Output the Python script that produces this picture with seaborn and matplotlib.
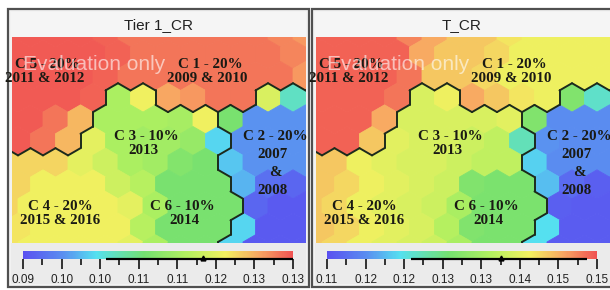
import numpy as np
import matplotlib
matplotlib.use("Agg")
import matplotlib.pyplot as plt
import seaborn as sns
from matplotlib.collections import PolyCollection, LineCollection
from matplotlib.colors import Normalize, LinearSegmentedColormap
from matplotlib.cm import ScalarMappable
from matplotlib.patches import Rectangle
import matplotlib.transforms as mtransforms

sns.set_theme(style="white")
plt.rcParams['font.family'] = ['Liberation Sans', 'DejaVu Sans']

# ---------------- data ----------------
titles = ["Tier 1_CR", "T_CR"]
tick_labels_1 = ["0.09", "0.10", "0.10", "0.11", "0.11", "0.12", "0.13", "0.13"]
tick_labels_2 = ["0.11", "0.12", "0.12", "0.13", "0.13", "0.14", "0.15", "0.15"]
scale_1 = (0.092, 0.131)
scale_2 = (0.1125, 0.151)
# black range line under colour bar: low, high, marker
range_1 = (0.104, 0.131, 0.118)
range_2 = (0.1245, 0.1496, 0.1373)

# cluster groups per SOM cell (T = C5+C1, M = C3+C4+C6, R = C2)
cluster_groups = [
    "TTTTTTTTTTTTT",
    "TTTTTTTTTTTTT",
    "TTTTTTTTTTTTT",
    "TTTTMMTTTTRRR",
    "TTTTMMMMMRRRR",
    "TTTMMMMMMRRRR",
    "MMMMMMMMMRRRR",
    "MMMMMMMMMRRRR",
    "MMMMMMMMMMRRR",
    "MMMMMMMMMRRRR",
    "MMMMMMMMMRRRR",
]

values_1 = [
    [0.1305, 0.1305, 0.1305, 0.1305, 0.130, 0.129, 0.129, 0.129, 0.129, 0.129, 0.129, 0.128, 0.127],
    [0.1305, 0.1305, 0.1305, 0.1305, 0.130, 0.129, 0.129, 0.129, 0.129, 0.129, 0.129, 0.128, 0.128],
    [0.1305, 0.1305, 0.1305, 0.1305, 0.130, 0.129, 0.129, 0.129, 0.129, 0.129, 0.129, 0.129, 0.127],
    [0.1305, 0.1305, 0.1305, 0.130, 0.115, 0.121, 0.126, 0.127, 0.129, 0.129, 0.119, 0.105, 0.105],
    [0.1305, 0.1305, 0.129, 0.125, 0.115, 0.115, 0.115, 0.1145, 0.121, 0.110, 0.098, 0.098, 0.098],
    [0.1305, 0.129, 0.125, 0.120, 0.115, 0.114, 0.114, 0.113, 0.102, 0.098, 0.098, 0.098, 0.098],
    [0.123, 0.123, 0.123, 0.120, 0.118, 0.115, 0.114, 0.111, 0.110, 0.101, 0.098, 0.098, 0.098],
    [0.123, 0.121, 0.121, 0.121, 0.118, 0.116, 0.110, 0.110, 0.110, 0.100, 0.095, 0.094, 0.094],
    [0.123, 0.121, 0.121, 0.121, 0.121, 0.120, 0.115, 0.110, 0.110, 0.110, 0.094, 0.093, 0.093],
    [0.122, 0.121, 0.121, 0.121, 0.121, 0.116, 0.110, 0.110, 0.110, 0.102, 0.093, 0.093, 0.093],
    [0.122, 0.121, 0.121, 0.121, 0.121, 0.120, 0.115, 0.110, 0.110, 0.102, 0.093, 0.093, 0.093],
]

values_2 = [
    [0.150, 0.150, 0.150, 0.150, 0.148, 0.146, 0.144, 0.144, 0.142, 0.141, 0.141, 0.141, 0.141],
    [0.150, 0.150, 0.150, 0.150, 0.146, 0.144, 0.144, 0.143, 0.141, 0.141, 0.141, 0.141, 0.141],
    [0.150, 0.150, 0.150, 0.150, 0.149, 0.144, 0.144, 0.143, 0.141, 0.141, 0.141, 0.141, 0.141],
    [0.150, 0.150, 0.150, 0.149, 0.139, 0.141, 0.146, 0.144, 0.142, 0.141, 0.131, 0.125, 0.125],
    [0.150, 0.150, 0.150, 0.146, 0.139, 0.139, 0.139, 0.139, 0.140, 0.131, 0.118, 0.118, 0.118],
    [0.150, 0.150, 0.144, 0.140, 0.139, 0.139, 0.138, 0.137, 0.126, 0.1185, 0.118, 0.118, 0.118],
    [0.144, 0.144, 0.141, 0.140, 0.139, 0.139, 0.138, 0.137, 0.137, 0.122, 0.118, 0.118, 0.118],
    [0.144, 0.143, 0.141, 0.140, 0.139, 0.138, 0.131, 0.1305, 0.1305, 0.121, 0.115, 0.114, 0.114],
    [0.144, 0.143, 0.141, 0.140, 0.139, 0.138, 0.135, 0.1305, 0.1305, 0.1305, 0.114, 0.1137, 0.1137],
    [0.144, 0.143, 0.141, 0.140, 0.139, 0.136, 0.131, 0.1305, 0.1305, 0.123, 0.1137, 0.1137, 0.1137],
    [0.144, 0.143, 0.141, 0.140, 0.139, 0.138, 0.135, 0.1305, 0.1305, 0.123, 0.1137, 0.1137, 0.1137],
]

cluster_texts = ["C 5 - 20%", "2011 & 2012", "C 1 - 20%", "2009 & 2010",
                 "C 3 - 10%", "2013", "C 2 - 20%", "2007", "&", "2008",
                 "C 4 - 20%", "2015 & 2016", "C 6 - 10%", "2014"]
watermark = "Evaluation only"

# ---------------- layout (pixels, relative to left panel) ----------------
text_pos = [(47, 64), (45, 79), (210, 64), (207, 79),
            (146, 137), (143, 151), (275, 137), (273, 154), (275, 173), (273, 191),
            (60, 206), (60, 221), (182, 206), (184, 221)]
panel_dx = [0, 304]

W, H = 610, 290
fig = plt.figure(figsize=(W / 100, H / 100), dpi=100)


def px_axes(x0, y0, x1, y1, z=1):
    return fig.add_axes([x0 / W, 1 - y1 / H, (x1 - x0) / W, (y1 - y0) / H], zorder=z)


cmap = LinearSegmentedColormap.from_list("som", [
    (0.00, "#5a50f0"), (0.15, "#5a90f0"), (0.27, "#55e0f0"), (0.45, "#74e070"),
    (0.60, "#b0f060"), (0.75, "#f2f060"), (0.88, "#f8a462"), (1.00, "#f05252")])

bg = px_axes(0, 0, W, H, z=0)
bg.set_xlim(0, W)
bg.set_ylim(H, 0)
bg.axis("off")

ov = px_axes(0, 0, W, H, z=10)
ov.set_xlim(0, W)
ov.set_ylim(H, 0)
ov.axis("off")
ov.patch.set_alpha(0)

s = 1 / np.sqrt(3)
rh = np.sqrt(3) / 2
nrow, ncol = len(cluster_groups), len(cluster_groups[0])

datasets = [(values_1, scale_1, tick_labels_1, range_1),
            (values_2, scale_2, tick_labels_2, range_2)]

for p, (vals, scale, tlabels, rng) in enumerate(datasets):
    dx = panel_dx[p]
    # frame and background bands
    bg.add_patch(Rectangle((8 + dx, 9), 301, 278, facecolor="#f2f2f2",
                           edgecolor="#505050", lw=1.6))
    bg.add_patch(Rectangle((11 + dx, 12), 295, 25, facecolor="#f5f5f5",
                           edgecolor="none"))
    bg.add_patch(Rectangle((11 + dx, 243), 295, 41, facecolor="#ebebeb",
                           edgecolor="none"))
    bg.text(158 + dx, 25, titles[p], ha="center", va="center", fontsize=11,
            color="#222222")

    # hexagonal SOM map
    ax = px_axes(12 + dx, 37, 306 + dx, 243, z=2)
    ax.set_xlim(0.26, 12.02)
    ax.set_ylim(8.412, 0.172)
    ax.axis("off")
    norm = Normalize(vmin=scale[0], vmax=scale[1])
    polys, cvals = [], []
    for r in range(nrow):
        for k in range(ncol):
            cx = k + 0.5 * (r % 2)
            cy = r * rh
            ang = np.deg2rad(30 + 60 * np.arange(6))
            polys.append(np.column_stack([cx + s * np.cos(ang), cy + s * np.sin(ang)]))
            cvals.append(vals[r][k])
    pc = PolyCollection(polys, array=np.array(cvals), cmap=cmap, norm=norm,
                        edgecolors="face", linewidths=0.6)
    ax.add_collection(pc)

    # cluster boundaries
    segs = []
    for r in range(nrow):
        for k in range(ncol):
            cx = k + 0.5 * (r % 2)
            cy = r * rh
            for th in range(0, 360, 60):
                t = np.deg2rad(th)
                nx, ny = cx + np.cos(t), cy + np.sin(t)
                r2 = int(round(ny / rh))
                k2 = int(round(nx - 0.5 * (r2 % 2)))
                if not (0 <= r2 < nrow and 0 <= k2 < ncol):
                    continue
                if (r2, k2) < (r, k):
                    continue
                if cluster_groups[r][k] != cluster_groups[r2][k2]:
                    a1, a2 = np.deg2rad(th - 30), np.deg2rad(th + 30)
                    segs.append([(cx + s * np.cos(a1), cy + s * np.sin(a1)),
                                 (cx + s * np.cos(a2), cy + s * np.sin(a2))])
    ax.add_collection(LineCollection(segs, colors="#1c2a1c", linewidths=1.4,
                                     capstyle="round"))

    # colour bar
    cax = px_axes(23 + dx, 251, 293 + dx, 259, z=3)
    cb = fig.colorbar(ScalarMappable(norm=norm, cmap=cmap), cax=cax,
                      orientation="horizontal")
    cb.outline.set_visible(False)
    ticks = np.linspace(scale[0], scale[1], len(tlabels))
    cax.set_xticks(ticks, labels=tlabels)
    cax.set_xticks((ticks[:-1] + ticks[1:]) / 2, minor=True)
    cax.tick_params(axis="x", which="both", bottom=True, direction="out",
                    color="black", width=1.1)
    cax.tick_params(axis="x", which="major", length=7, labelsize=8.5, pad=4,
                    labelcolor="#222222")
    cax.tick_params(axis="x", which="minor", length=4)
    trans = mtransforms.blended_transform_factory(cax.transData, cax.transAxes)
    cax.plot([rng[0], rng[1]], [0, 0], color="black", lw=1.6, transform=trans,
             clip_on=False, solid_capstyle="butt")
    cax.plot([rng[2]], [0.12], marker="^", ms=3.5, color="black",
             transform=trans, clip_on=False)

    # cluster labels and watermark
    for txt, (tx, ty) in zip(cluster_texts, text_pos):
        ov.text(tx + dx, ty, txt, ha="center", va="center", fontsize=10.8,
                fontweight="bold", family=["Liberation Serif", "DejaVu Serif"],
                color="#1a1a14")
    ov.text(94 + dx, 64, watermark, ha="center", va="center", fontsize=15,
            color="white", alpha=0.6)

fig.savefig("out.png", dpi=100)
